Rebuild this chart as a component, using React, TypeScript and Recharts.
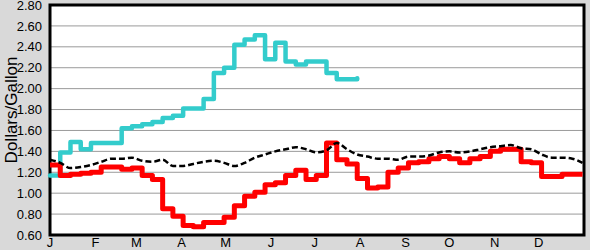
import React from 'react';
import { LineChart, Line, XAxis, YAxis, CartesianGrid, ReferenceArea } from 'recharts';

// weekly samples, day of year
const DAYS = Array.from({ length: 53 }, (_, i) => i * 7);

const MONTH_TICKS = [0, 31, 59, 90, 120, 151, 181, 212, 243, 273, 304, 334];
const MONTH_LABELS = ['J', 'F', 'M', 'A', 'M', 'J', 'J', 'A', 'S', 'O', 'N', 'D'];

const Y_TICKS = [0.6, 0.8, 1.0, 1.2, 1.4, 1.6, 1.8, 2.0, 2.2, 2.4, 2.6, 2.8];

// cyan series stops early August
const CYAN = [
  1.17, 1.39, 1.49, 1.42, 1.48, 1.48, 1.48, 1.62, 1.64, 1.66, 1.68, 1.72, 1.74, 1.81,
  1.81, 1.90, 2.15, 2.20, 2.42, 2.47, 2.51, 2.28, 2.44, 2.26, 2.23, 2.26, 2.26, 2.15,
  2.09, 2.09, 2.10,
];

const RED = [
  1.27, 1.17, 1.18, 1.19, 1.20, 1.25, 1.25, 1.23, 1.24, 1.17, 1.13, 0.85, 0.78, 0.69,
  0.68, 0.72, 0.72, 0.77, 0.88, 0.97, 1.01, 1.08, 1.10, 1.17, 1.22, 1.13, 1.17, 1.48,
  1.32, 1.28, 1.14, 1.05, 1.06, 1.20, 1.24, 1.29, 1.30, 1.33, 1.35, 1.33, 1.29, 1.33,
  1.35, 1.40, 1.42, 1.42, 1.30, 1.29, 1.16, 1.16, 1.18, 1.18, 1.18,
];

// average (dashed)
const AVG = [
  1.32, 1.29, 1.24, 1.25, 1.27, 1.30, 1.33, 1.33, 1.34, 1.31, 1.30, 1.32, 1.26, 1.26,
  1.28, 1.30, 1.31, 1.29, 1.26, 1.29, 1.34, 1.37, 1.40, 1.42, 1.44, 1.42, 1.39, 1.41,
  1.48, 1.42, 1.37, 1.35, 1.33, 1.33, 1.32, 1.35, 1.35, 1.36, 1.39, 1.40, 1.39, 1.40,
  1.42, 1.44, 1.45, 1.46, 1.43, 1.42, 1.37, 1.34, 1.34, 1.33, 1.29,
];

const FONT = '"Liberation Sans", Arial, sans-serif';

export default function App() {
  const data = DAYS.map((day, i) => ({
    day,
    cyan: i < CYAN.length ? CYAN[i] : null,
    red: RED[i],
    avg: AVG[i],
  }));

  return (
    <div style={{ position: 'fixed', left: 0, top: 0, width: 590, height: 250, background: '#d9d9d9', overflow: 'hidden' }}>
      <LineChart width={590} height={250} data={data} margin={{ top: 5, right: 6, bottom: 0, left: 0 }}>
        <CartesianGrid horizontal vertical={false} stroke="#9a9a9a" fill="#ffffff" />
        <XAxis
          dataKey="day"
          type="number"
          domain={[0, 365]}
          ticks={MONTH_TICKS}
          tickFormatter={(v: number) => MONTH_LABELS[MONTH_TICKS.indexOf(v)]}
          height={15}
          tickSize={0}
          tickMargin={3}
          axisLine={false}
          interval={0}
          tick={{ fontSize: 13, fill: '#000', fontFamily: FONT }}
        />
        <YAxis
          type="number"
          domain={[0.6, 2.8]}
          ticks={Y_TICKS}
          tickFormatter={(v: number) => v.toFixed(2)}
          width={50}
          tickSize={0}
          tickMargin={8}
          axisLine={false}
          interval={0}
          tick={{ fontSize: 13, fill: '#000', fontFamily: FONT }}
        />
        <Line type="stepAfter" dataKey="cyan" stroke="#33cccc" strokeWidth={4.5} strokeLinejoin="round" strokeLinecap="round" dot={false} isAnimationActive={false} />
        <Line type="stepAfter" dataKey="red" stroke="#ff0000" strokeWidth={5} strokeLinejoin="round" dot={false} isAnimationActive={false} />
        <Line type="monotone" dataKey="avg" stroke="#000000" strokeWidth={2.5} strokeDasharray="6 3" dot={false} isAnimationActive={false} />
        <ReferenceArea x1={0} x2={365} y1={0.6} y2={2.8} fill="none" stroke="#000" strokeWidth={3} ifOverflow="visible" />
      </LineChart>
      <div
        style={{
          position: 'absolute',
          left: 12,
          top: 110,
          transform: 'translate(-50%, -50%) rotate(-90deg)',
          fontSize: 17,
          fontFamily: FONT,
          color: '#000',
          whiteSpace: 'nowrap',
        }}
      >
        Dollars/Gallon
      </div>
    </div>
  );
}
